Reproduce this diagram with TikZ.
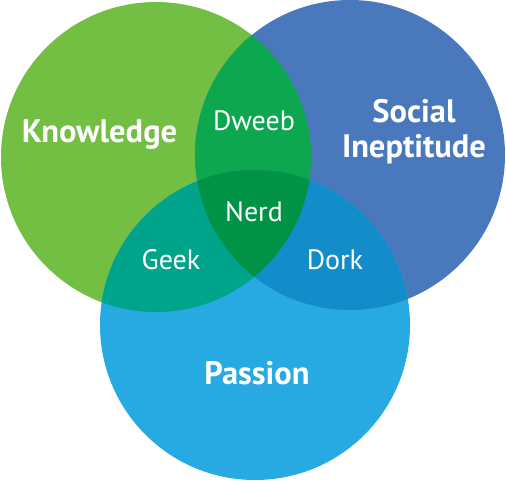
\documentclass[tikz,border=0pt]{standalone}
\usepackage{fontspec}
\setmainfont{PT Sans}
\definecolor{cgreen}{HTML}{72BF44}
\definecolor{cblue}{HTML}{4A78BC}
\definecolor{cpass}{HTML}{27AAE1}
\definecolor{cdweeb}{HTML}{0DA750}
\definecolor{cgeek}{HTML}{00A48A}
\definecolor{cdork}{HTML}{138CCA}
\definecolor{cnerd}{HTML}{009245}
\begin{document}
\begin{tikzpicture}[x=1pt,y=-1pt,
  big/.style={text=white,font=\fontsize{32.5}{36}\selectfont\bfseries,anchor=base,inner sep=0pt},
  small/.style={text=white,font=\fontsize{28}{32}\selectfont,anchor=base,inner sep=0pt}]
\useasboundingbox (0,0) rectangle (506,480);
\def\R{155}
\coordinate (K) at (156,157);
\coordinate (S) at (350,155);
\coordinate (P) at (255,325);
\fill[cgreen] (K) circle (\R);
\fill[cblue] (S) circle (\R);
\fill[cpass] (P) circle (\R);
\begin{scope}
  \clip (K) circle (\R);
  \fill[cdweeb] (S) circle (\R);
  \fill[cgeek] (P) circle (\R);
  \clip (S) circle (\R);
  \fill[cnerd] (P) circle (\R);
\end{scope}
\begin{scope}
  \clip (S) circle (\R);
  \clip (P) circle (\R);
  \fill[cdork] (P) circle (\R);
  \clip (K) circle (\R);
  \fill[cnerd] (P) circle (\R);
\end{scope}
\node[big] (tk) at (99.5,142) {Knowledge};
\node[big] (ts) at (414,122) {Social};
\node[big] (ti) at (414,157) {Ineptitude};
\node[big] (tp) at (257,384) {Passion};
\node[small] (td) at (254,130) {Dweeb};
\node[small] (tn) at (254,221) {Nerd};
\node[small] (tg) at (171,269) {Geek};
\node[small] (tdo) at (335,269) {Dork};
\end{tikzpicture}
\end{document}
